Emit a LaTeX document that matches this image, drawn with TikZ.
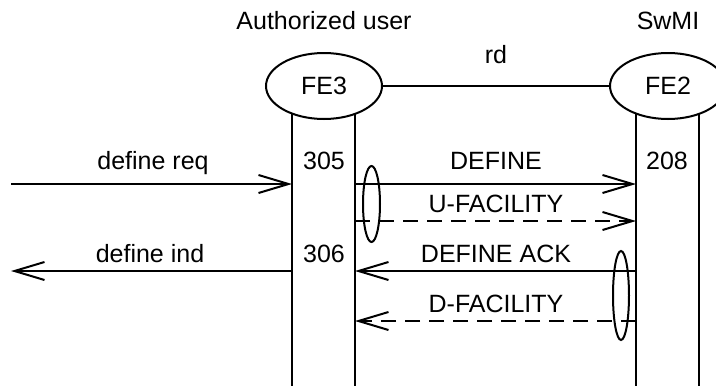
\documentclass[tikz,border=0pt]{standalone}
\usepackage{fontspec}
\setmainfont{Liberation Sans}
\usetikzlibrary{shapes.geometric,arrows.meta}
\pgfdeclarelayer{background}
\pgfsetlayers{background,main}
\tikzset{
  lw/.style={line width=2pt},
  lbl/.style={font=\fontsize{25}{29}\selectfont, inner sep=0pt, anchor=base},
  fe/.style={lw, draw, ellipse, fill=white, minimum width=116pt, minimum height=66pt, inner sep=0pt, font=\fontsize{25}{29}\selectfont},
  msg/.style={lw, -{Straight Barb[length=30pt,width=18pt,line width=2pt]}},
  dmsg/.style={msg, dash pattern=on 15pt off 9pt},
  grp/.style={lw, draw, ellipse, inner sep=0pt},
}
\begin{document}
\begin{tikzpicture}[x=1pt,y=-1pt]
\begin{pgfonlayer}{background}
\fill[white] (0,0) rectangle (716,386);
\end{pgfonlayer}
\clip (0,0) rectangle (716,386);
% lifeline x positions and row y positions
\coordinate (env) at (11,0);
\coordinate (aL) at (292,0);
\coordinate (aR) at (355,0);
\coordinate (bL) at (636,0);
\coordinate (bR) at (699,0);
\coordinate (bot) at (0,390);
\coordinate (r1) at (0,184);
\coordinate (r2) at (0,221);
\coordinate (r3) at (0,271);
\coordinate (r4) at (0,321);
% lifelines (behind the entity ellipses)
\draw[lw] (aL |- 0,86) -- (aL |- bot);
\draw[lw] (aR |- 0,86) -- (aR |- bot);
\draw[lw] (bL |- 0,86) -- (bL |- bot);
\draw[lw] (bR |- 0,86) -- (bR |- bot);
% entities
\node[fe] (fe3) at (324,86) {FE3};
\node[fe] (fe2) at (668,86) {FE2};
\node[lbl] (au) at (324,29) {Authorized user};
\node[lbl] (sw) at (668,29) {SwMI};
\node[lbl] (rd) at (496,63) {rd};
\draw[lw] (fe3) -- (fe2);
% labels
\node[lbl] (t1) at (153,169) {define req};
\node[lbl] (n305) at (324,169) {305};
\node[lbl] (t2) at (496,169) {DEFINE};
\node[lbl] (n208) at (667,169) {208};
\node[lbl] (t3) at (496,212) {U-FACILITY};
\node[lbl] (t4) at (150,262) {define ind};
\node[lbl] (n306) at (324,262) {306};
\node[lbl] (t5) at (496,262) {DEFINE ACK};
\node[lbl] (t6) at (496,312) {D-FACILITY};
% messages
\draw[msg] (env |- r1) -- (aL |- r1);
\draw[msg] (aR |- r1) -- (bL |- r1);
\draw[dmsg] (aR |- r2) -- (bL |- r2);
\draw[msg] (aL |- r3) -- (env |- r3);
\draw[msg] (bL |- r3) -- (aR |- r3);
\draw[dmsg] (bL |- r4) -- (aR |- r4);
% grouping ellipses
\node[grp, minimum width=17pt, minimum height=76pt] (g1) at (371.5,204) {};
\node[grp, minimum width=16pt, minimum height=89pt] (g2) at (621,295.5) {};
\end{tikzpicture}
\end{document}
